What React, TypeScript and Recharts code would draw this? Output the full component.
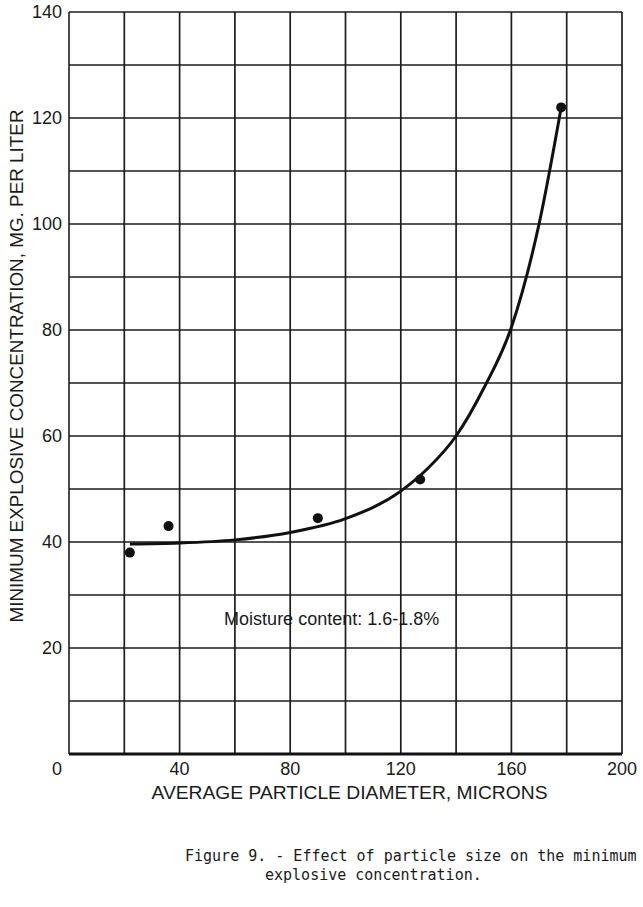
import React from 'react';
import {
    ComposedChart,
    Line,
    Scatter,
    XAxis,
    YAxis,
    ReferenceLine,
    ReferenceDot
} from 'recharts';

// measured points
const pointX = [22, 36, 90, 127, 178];
const pointY = [38, 43, 44.5, 51.8, 122];

// hand-drawn fitted curve
const curveX = [22, 40, 60, 80, 100, 120, 130, 140, 150, 160, 170, 178];
const curveY = [39.6, 39.8, 40.4, 41.8, 44.4, 49.6, 54, 60, 69, 80.5, 100, 122];

const xTicks = [0, 40, 80, 120, 160, 200];
const yTicks = [20, 40, 60, 80, 100, 120, 140];
const xGrid = [20, 40, 60, 80, 100, 120, 140, 160, 180, 200];
const yGrid = [10, 20, 30, 40, 50, 60, 70, 80, 90, 100, 110, 120, 130, 140];

const points = pointX.map((x, i) => ({ x, y: pointY[i] }));
const curve = curveX.map((x, i) => ({ x, y: curveY[i] }));

const tickFont = "'Liberation Sans', Arial, sans-serif";
const ink = '#1a1a1a';

const XTick = (props: any) => {
    const { x, y, payload } = props;
    const shift = payload.value === 0 ? -12 : 0;
    return (
        <text x={x + shift} y={y + 13} textAnchor="middle" fill={ink} fontSize={18} fontFamily={tickFont}>
            {payload.value}
        </text>
    );
};

const YTick = (props: any) => {
    const { x, y, payload } = props;
    return (
        <text x={x + 1} y={y + 6} textAnchor="end" fill={ink} fontSize={18} fontFamily={tickFont}>
            {payload.value}
        </text>
    );
};

const XTitle = (props: any) => {
    const vb = props.viewBox;
    return (
        <text
            x={vb.x + vb.width / 2 + 4}
            y={vb.y + 45}
            textAnchor="middle"
            fill={ink}
            fontSize={18}
            fontFamily={tickFont}
            textLength={396}
            lengthAdjust="spacingAndGlyphs"
        >
            AVERAGE PARTICLE DIAMETER, MICRONS
        </text>
    );
};

const YTitle = (props: any) => {
    const vb = props.viewBox;
    const cx = vb.x + 14;
    const cy = vb.y + vb.height / 2 - 17;
    return (
        <text
            x={cx}
            y={cy}
            transform={`rotate(-90, ${cx}, ${cy})`}
            textAnchor="middle"
            fill={ink}
            fontSize={18}
            fontFamily={tickFont}
            textLength={513}
            lengthAdjust="spacingAndGlyphs"
        >
            MINIMUM EXPLOSIVE CONCENTRATION, MG. PER LITER
        </text>
    );
};

const Dot = (props: any) => <circle cx={props.cx} cy={props.cy} r={5} fill="#111" />;

export default function App() {
    return (
        <div style={{ position: 'absolute', left: 0, top: 0, width: 643, height: 907, background: '#fff' }}>
            <ComposedChart
                width={643}
                height={820}
                margin={{ top: 12, right: 21, bottom: 26, left: 9 }}
            >
                <XAxis
                    type="number"
                    dataKey="x"
                    domain={[0, 200]}
                    ticks={xTicks}
                    tickLine={false}
                    axisLine={{ stroke: '#111', strokeWidth: 3 }}
                    tick={<XTick />}
                    height={40}
                    allowDataOverflow
                    label={<XTitle />}
                />
                <YAxis
                    type="number"
                    dataKey="y"
                    domain={[0, 140]}
                    ticks={yTicks}
                    tickLine={false}
                    axisLine={{ stroke: '#111', strokeWidth: 1.5 }}
                    tick={<YTick />}
                    width={60}
                    allowDataOverflow
                    label={<YTitle />}
                />
                {xGrid.map((v) => (
                    <ReferenceLine key={'vx' + v} x={v} stroke="#1c1c1c" strokeWidth={1.7} />
                ))}
                {yGrid.map((v) => (
                    <ReferenceLine key={'hy' + v} y={v} stroke="#1c1c1c" strokeWidth={1.7} />
                ))}
                <ReferenceDot
                    x={95}
                    y={25.6}
                    r={0}
                    stroke="none"
                    label={{
                        value: 'Moisture content: 1.6-1.8%',
                        position: 'center',
                        fill: ink,
                        fontSize: 18,
                        fontFamily: tickFont
                    }}
                />
                <Line
                    data={curve}
                    dataKey="y"
                    type="monotone"
                    stroke="#111"
                    strokeWidth={3}
                    dot={false}
                    activeDot={false}
                    isAnimationActive={false}
                />
                <Scatter data={points} dataKey="y" shape={<Dot />} isAnimationActive={false} />
            </ComposedChart>
            <div
                style={{
                    position: 'absolute',
                    left: 185,
                    top: 847,
                    fontFamily: "'DejaVu Sans Mono', monospace",
                    fontSize: 15,
                    color: ink,
                    lineHeight: '19px',
                    whiteSpace: 'pre'
                }}
            >
                <div>Figure 9. - Effect of particle size on the minimum</div>
                <div style={{ paddingLeft: 80 }}>explosive concentration.</div>
            </div>
        </div>
    );
}
